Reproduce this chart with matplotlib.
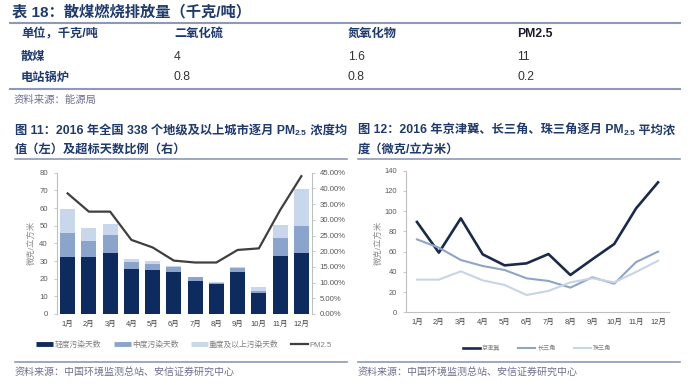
import matplotlib
matplotlib.use("Agg")
import matplotlib.pyplot as plt
from matplotlib.lines import Line2D
from matplotlib.ticker import FuncFormatter

plt.rcParams['font.family'] = ['Liberation Sans', 'Noto Sans CJK SC', 'DejaVu Sans']

W, H = 691, 392

# table 18
tbl_head = ['单位，千克/吨', '二氧化硫', '氮氧化物', 'PM2.5']
tbl_rows = ['散煤', '电站锅炉']
tbl_vals = [['4', '1.6', '11'], ['0.8', '0.8', '0.2']]

months = [f'{i}月' for i in range(1, 13)]

# fig 11 (stacked bars, left axis; line, right axis in %)
mild = [32.0, 32.0, 34.3, 25.7, 24.9, 23.8, 18.9, 16.8, 24.0, 11.7, 32.8, 34.3]
moderate = [13.7, 9.5, 10.4, 3.7, 3.6, 3.0, 1.9, 0.9, 2.0, 1.3, 10.0, 15.7]
heavy = [13.5, 7.2, 6.1, 1.7, 1.7, 0.4, 0.3, 0.6, 0.8, 2.3, 7.4, 20.9]
pm25_ratio = [38.4, 32.6, 32.6, 23.6, 21.2, 17.0, 16.4, 16.4, 20.4, 20.9, 33.1, 43.9]
bar_labels = ['轻度污染天数', '中度污染天数', '重度及以上污染天数', 'PM2.5']

# fig 12
jjj = [89.3, 59.0, 92.9, 57.3, 46.4, 48.4, 57.6, 36.9, 52.4, 67.5, 102.8, 128.5]
csj = [72.1, 63.9, 51.7, 45.8, 41.8, 33.6, 31.0, 24.4, 34.6, 28.3, 49.7, 60.0]
zsj = [32.3, 32.3, 40.5, 31.6, 27.0, 17.1, 21.1, 29.6, 33.6, 29.6, 39.9, 51.0]
region_labels = ['京津冀', '长三角', '珠三角']

NAVY = '#1f3a6e'
RULE = '#8e98b8'
GRAY = '#595959'
SRC = '#6e7090'


def fx(x):
    return x / W


def fy(y):
    return 1 - y / H


fig = plt.figure(figsize=(W / 100, H / 100), dpi=100)
renderer = fig.canvas.get_renderer()


def hline(x0, x1, y, color=RULE, lw=1.2):
    fig.add_artist(Line2D([fx(x0), fx(x1)], [fy(y), fy(y)], transform=fig.transFigure,
                          color=color, lw=lw))


def seq_text(x, y, parts, **kw):
    # lay text pieces one after another (for the PM2.5 subscript)
    for s, extra in parts:
        opts = dict(kw)
        dy = extra.pop('dy', 0) if extra else 0
        opts.update(extra or {})
        t = fig.text(fx(x), fy(y + dy), s, va='center', ha='left', **opts)
        x = t.get_window_extent(renderer).x1


# ---- table ----
fig.text(fx(12), fy(12.5), '表 18：散煤燃烧排放量（千克/吨）', fontsize=11, weight='bold',
         color=NAVY, va='center')
hline(10, 680, 23, lw=1.5)
col_x = [21, 174, 348, 517]
for j, h in enumerate(tbl_head):
    fig.text(fx(col_x[j]), fy(34), h, fontsize=8.8, weight='bold', va='center',
             color=NAVY if j < 3 else '#1a1a2e')
for i, r in enumerate(tbl_rows):
    yy = 56.5 + i * 21
    fig.text(fx(col_x[0]), fy(yy), r, fontsize=8.8, weight='bold', color=NAVY, va='center')
    for j, v in enumerate(tbl_vals[i]):
        fig.text(fx(col_x[j + 1]), fy(yy), v, fontsize=8.8, color='#333333', va='center')
hline(10, 680, 88.5, lw=1.5)
fig.text(fx(14), fy(100), '资料来源：能源局', fontsize=7.5, color=SRC, va='center')

# ---- chart titles ----
tkw = dict(fontsize=8.8, weight='bold', color=NAVY)
seq_text(15, 130.5, [('图 11：2016 年全国 338 个地级及以上城市逐月 PM', None),
                     ('2.5', {'fontsize': 6, 'dy': 3}),
                     (' 浓度均', None)], **tkw)
fig.text(fx(15), fy(149.5), '值（左）及超标天数比例（右）', va='center', **tkw)
hline(15, 347, 159)

seq_text(358, 130.5, [('图 12：2016 年京津冀、长三角、珠三角逐月 PM', None),
                      ('2.5', {'fontsize': 6, 'dy': 3}),
                      (' 平均浓', None)], **tkw)
fig.text(fx(358), fy(149.5), '度（微克/立方米）', va='center', **tkw)
hline(358, 680, 159)

# ---- fig 11 ----
x = list(range(12))
ax1 = fig.add_axes([fx(57), fy(314), fx(312) - fx(57), fy(172.7) - fy(314)])
c_mild, c_mod, c_heavy = '#0d2b5e', '#8aa4cb', '#c8d7ec'
bottom2 = [a + b for a, b in zip(mild, moderate)]
ax1.bar(x, mild, width=0.7, color=c_mild)
ax1.bar(x, moderate, width=0.7, bottom=mild, color=c_mod)
ax1.bar(x, heavy, width=0.7, bottom=bottom2, color=c_heavy)
ax1.set_xlim(-0.5, 11.5)
ax1.set_ylim(0, 80)
ax1.set_yticks(range(0, 81, 10))
ax1.set_xticks(x, months)
ax2 = ax1.twinx()
ax2.plot(x, [v / 100 for v in pm25_ratio], color='#3f3f3f', lw=1.6)
ax2.set_ylim(0, 0.45)
ax2.set_yticks([i * 0.05 for i in range(10)])
ax2.yaxis.set_major_formatter(FuncFormatter(lambda v, p: f'{v:.2%}'))
for a in (ax1, ax2):
    for s in a.spines.values():
        s.set_visible(False)
    a.tick_params(labelsize=5.6, colors=GRAY, length=2.5, width=0.6)
    a.patch.set_visible(False)
ax1.spines['left'].set_visible(True)
ax1.spines['left'].set_color('#bfbfbf')
ax2.spines['right'].set_visible(True)
ax2.spines['right'].set_color('#bfbfbf')
ax1.tick_params(axis='y', color='#bfbfbf', pad=4)
ax2.tick_params(axis='y', color='#bfbfbf', pad=3)
ax1.tick_params(axis='x', length=0, pad=5, labelsize=5.4, colors='#404040')
fig.text(fx(31), fy(243), '微克/立方米', rotation=90, fontsize=6, color='#8c8c8c',
         va='center', ha='center')
hands = [Line2D([], [], color=c, lw=3.5, solid_capstyle='butt') for c in (c_mild, c_mod, c_heavy)]
hands.append(Line2D([], [], color='#3f3f3f', lw=1.6))
fig.legend(hands, bar_labels, loc='center', bbox_to_anchor=(fx(184), fy(345)), ncol=4,
           frameon=False, fontsize=5.6, handlelength=2.2, handletextpad=0.15,
           columnspacing=1.6, labelcolor='#7f7f7f', borderaxespad=0, borderpad=0)
hline(15, 347, 361.5)
fig.text(fx(15), fy(372), '资料来源：中国环境监测总站、安信证券研究中心', fontsize=7.2,
         color=SRC, va='center')

# ---- fig 12 ----
ax3 = fig.add_axes([fx(406), fy(312.3), fx(669) - fx(406), fy(170.7) - fy(312.3)])
cols = ['#1b2a4a', '#8ea5c5', '#c7d4e8']
lws = [1.9, 1.5, 1.5]
for ys, c, lw in zip([jjj, csj, zsj], cols, lws):
    ax3.plot(x, ys, color=c, lw=lw)
ax3.set_xlim(-0.5, 11.5)
ax3.set_ylim(0, 140)
ax3.set_yticks(range(0, 141, 20))
ax3.set_xticks(x, months)
for k in ('top', 'right'):
    ax3.spines[k].set_visible(False)
for k in ('left', 'bottom'):
    ax3.spines[k].set_color('#bfbfbf')
ax3.tick_params(labelsize=5.4, colors=GRAY, length=2.5, width=0.6)
ax3.tick_params(axis='y', color='#bfbfbf', pad=4)
ax3.tick_params(axis='x', length=0, pad=5, colors='#404040')
fig.text(fx(378), fy(243), '微克/立方米', rotation=90, fontsize=6, color='#8c8c8c',
         va='center', ha='center')
hands3 = [Line2D([], [], color=c, lw=lw) for c, lw in zip(cols, lws)]
fig.legend(hands3, region_labels, loc='center', bbox_to_anchor=(fx(537), fy(348)), ncol=3,
           frameon=False, fontsize=4.4, handlelength=2.8, handletextpad=0.3,
           columnspacing=3.0, labelcolor='#7f7f7f', borderaxespad=0, borderpad=0)
hline(358, 680, 361.5)
fig.text(fx(358), fy(372), '资料来源：中国环境监测总站、安信证券研究中心', fontsize=7.2,
         color=SRC, va='center')

fig.savefig('out.png', dpi=100)
